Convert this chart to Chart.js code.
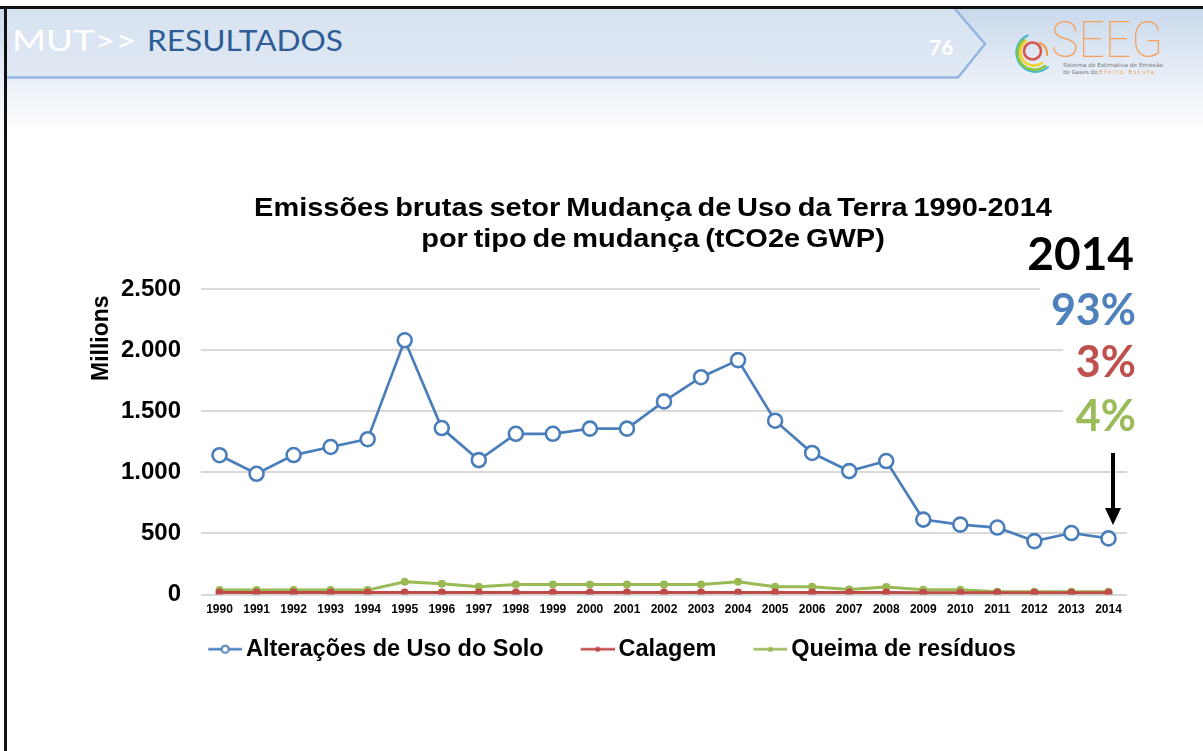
<!DOCTYPE html>
<html>
<head>
<meta charset="utf-8">
<script src="https://cdn.jsdelivr.net/npm/chart.js@4.4.1/dist/chart.umd.min.js"></script>
<style>
  html, body { margin:0; padding:0; width:1203px; height:751px; overflow:hidden; background:#fff; }
  #stage { position:absolute; left:0; top:0; width:1203px; height:751px; }
  #hdr { position:absolute; left:0; top:0; }
  #chartwrap { position:absolute; left:0; top:0; width:1203px; height:751px; }
  .abs { position:absolute; white-space:nowrap; }
  .ttl { font-family:'Liberation Sans', Arial, sans-serif; font-weight:bold; font-size:26px; line-height:30px;
         color:#000; left:153px; width:1000px; text-align:center; transform:scaleX(1.114); transform-origin:50% 0; word-spacing:-2px; }
  .pct { font-family:Lato, 'Open Sans', sans-serif; font-weight:bold; text-align:right; background:#fff; }
</style>
</head>
<body>
<div id="stage">
  <svg id="hdr" width="1203" height="751" xmlns="http://www.w3.org/2000/svg">
    <defs>
      <linearGradient id="gBack" x1="0" y1="0" x2="0" y2="1">
        <stop offset="0" stop-color="#c9d9ec"/>
        <stop offset="0.45" stop-color="#e3ebf5"/>
        <stop offset="1" stop-color="#ffffff"/>
      </linearGradient>
      <linearGradient id="gBand" x1="0" y1="0" x2="0" y2="1">
        <stop offset="0" stop-color="#d8e3f0"/>
        <stop offset="1" stop-color="#dfe8f3"/>
      </linearGradient>
    </defs>
    <rect x="0" y="9" width="1203" height="124" fill="url(#gBack)"/>
    <polygon points="7,9 955,9 985,44 958,77 7,77" fill="url(#gBand)"/>
    <polyline points="7,77.5 958,77.5 985,44 955,9" fill="none" stroke="#93b6e1" stroke-width="2.5"/>
    <rect x="0" y="6" width="1203" height="3" fill="#111"/>
    <rect x="4" y="6" width="3" height="745" fill="#111"/>
    <!-- logo rings -->
    <g fill="none" stroke-linecap="round">
      <path d="M 1027.5 35.5 A 19 19 0 1 0 1048 67" stroke="#4bb8c9" stroke-width="2.2"/>
      <path d="M 1024 40 A 16.5 16.5 0 1 0 1045 66" stroke="#8cc63f" stroke-width="2.6"/>
      <path d="M 1026 41 A 13 13 0 1 0 1042 63" stroke="#f2d230" stroke-width="2.6"/>
      <circle cx="1032.5" cy="51" r="8.5" stroke="#d9534f" stroke-width="2.6"/>
      <path d="M 1040 43 A 11 11 0 0 1 1047 55" stroke="#f29b4b" stroke-width="2.2"/>
    </g>
    <text x="1051" y="57" textLength="112" lengthAdjust="spacingAndGlyphs" font-family="Roboto, 'Open Sans', sans-serif" font-weight="100" font-size="50" fill="#f5a05a">SEEG</text>
    <text x="1063" y="67" textLength="100" lengthAdjust="spacingAndGlyphs" font-family="'DejaVu Sans', sans-serif" font-size="5.6" fill="#777">Sistema de Estimativa de Emissão</text>
    <text x="1063" y="74" font-family="'DejaVu Sans', sans-serif" font-size="5.6" fill="#777">de Gases do <tspan fill="#f29b4b" letter-spacing="1.6">Efeito Estufa</tspan></text>
    <!-- heading -->
    <text x="12" y="51" textLength="125" lengthAdjust="spacingAndGlyphs" font-family="Lato, 'Open Sans', sans-serif" font-size="28" fill="#ffffff">MUT&gt;&gt;</text>
    <text x="147" y="51" textLength="196" lengthAdjust="spacingAndGlyphs" font-family="Lato, 'Open Sans', sans-serif" font-size="28" fill="#2d5c96">RESULTADOS</text>
    <text x="929" y="55" font-family="Lato, 'Open Sans', sans-serif" font-weight="bold" font-size="21" fill="#ffffff">76</text>
  </svg>
  <div id="chartwrap"><canvas id="c" width="1203" height="751"></canvas></div>
  <div class="abs ttl" style="top:192px;">Emissões brutas setor Mudança de Uso da Terra 1990-2014</div>
  <div class="abs ttl" style="top:223px;">por tipo de mudança (tCO2e GWP)</div>
  <div class="abs pct" style="left:1026px; width:108px; top:230px; font-size:46px; line-height:46px; color:#000;">2014</div>
  <div class="abs pct" style="left:1040px; width:96px; top:287px; font-size:43px; line-height:43px; color:#4f81bd;">93%</div>
  <div class="abs pct" style="left:1063px; width:73px; top:339px; font-size:43px; line-height:43px; color:#c0504d;">3%</div>
  <div class="abs pct" style="left:1063px; width:73px; top:393px; font-size:43px; line-height:43px; color:#9bbb59;">4%</div>
  <svg class="abs" style="left:0; top:0;" width="1203" height="751">
    <line x1="1113" y1="453" x2="1113" y2="512" stroke="#000" stroke-width="4"/>
    <polygon points="1105,508 1121,508 1113,525" fill="#000"/>
  </svg>
</div>
<script>
// ---- data ----
const years = ['1990','1991','1992','1993','1994','1995','1996','1997','1998','1999','2000','2001','2002','2003','2004','2005','2006','2007','2008','2009','2010','2011','2012','2013','2014'];
const alteracoesUsoSolo = [1140, 988, 1141, 1207, 1271, 2080, 1362, 1100, 1315, 1315, 1357, 1357, 1580, 1778, 1918, 1422, 1158, 1010, 1092, 613, 572, 548, 437, 503, 459];
const calagem = [16, 16, 16, 16, 16, 17, 17, 17, 17, 17, 17, 17, 17, 17, 17, 17, 17, 16, 17, 15, 15, 14, 14, 14, 14];
const queimaResiduos = [36, 36, 36, 36, 36, 105, 88, 63, 82, 82, 82, 82, 82, 82, 105, 63, 63, 41, 61, 39, 39, 22, 22, 22, 22];
const seriesNames = ['Alterações de Uso do Solo', 'Calagem', 'Queima de resíduos'];
const yAxisTitle = 'Millions';

const BLUE = '#4a7ebb', RED = '#be4b48', GREEN = '#98b954';
const FONT = "'Liberation Sans', Arial, sans-serif";

function fmt(v){ return String(v).replace(/\B(?=(\d{3})+(?!\d))/g, '.'); }

// legend symbols: line with marker
const P = 54, WI = P + 16;
function legendIcon(color, hollow){
  const c = document.createElement('canvas');
  c.width = WI; c.height = 16;
  const g = c.getContext('2d');
  g.strokeStyle = color; g.lineWidth = 2.6;
  g.beginPath(); g.moveTo(WI - 34, 8); g.lineTo(WI, 8); g.stroke();
  const mx = WI - 17;
  g.beginPath();
  if (hollow){ g.arc(mx, 8, 3.6, 0, Math.PI*2); g.fillStyle = '#fff'; g.fill(); g.lineWidth = 2; g.stroke(); }
  else { g.arc(mx, 8, 2.6, 0, Math.PI*2); g.fillStyle = color; g.fill(); }
  return c;
}
const icons = [legendIcon(BLUE, true), legendIcon(RED, false), legendIcon(GREEN, false)];

new Chart(document.getElementById('c'), {
  type: 'line',
  data: {
    labels: years,
    datasets: [
      { label: seriesNames[0], data: alteracoesUsoSolo, borderColor: BLUE, borderWidth: 2.7,
        pointRadius: 7, pointBorderWidth: 2.6, pointBackgroundColor: '#fff', pointBorderColor: BLUE, tension: 0 },
      { label: seriesNames[1], data: calagem, borderColor: RED, borderWidth: 3,
        pointRadius: 4, pointBorderWidth: 0, pointBackgroundColor: RED, tension: 0 },
      { label: seriesNames[2], data: queimaResiduos, borderColor: GREEN, borderWidth: 3,
        pointRadius: 4, pointBorderWidth: 0, pointBackgroundColor: GREEN, tension: 0 }
    ]
  },
  options: {
    responsive: false, animation: false, devicePixelRatio: 1,
    layout: { padding: { left: 69, right: 76, top: 289, bottom: 80 } },
    plugins: {
      title: { display: false },
      tooltip: { enabled: false },
      legend: {
        position: 'bottom',
        labels: {
          usePointStyle: true, pointStyleWidth: P, padding: 9, color: '#000',
          font: { family: FONT, size: 23.5, weight: 'bold' },
          generateLabels(chart){
            const items = Chart.defaults.plugins.legend.labels.generateLabels(chart);
            items.forEach((it, i) => { it.pointStyle = icons[i]; it.fontColor = '#000'; });
            return items;
          }
        }
      }
    },
    scales: {
      x: {
        offset: true,
        grid: { display: false },
        border: { display: false },
        ticks: { color: '#000', font: { family: FONT, size: 12, weight: 'bold' }, padding: 0, maxRotation: 0, autoSkip: false },
        afterFit(scale){ scale.height = 34; }
      },
      y: {
        min: 0, max: 2500,
        grid: { color: '#d9d9d9', lineWidth: 2, drawTicks: false },
        border: { display: false },
        ticks: { stepSize: 500, color: '#000', padding: 20, font: { family: FONT, size: 24, weight: 'bold' }, callback: v => fmt(v) },
        title: { display: true, text: yAxisTitle + ' ', align: 'end', color: '#000', padding: { top: 19, bottom: 0 },
                 font: { family: FONT, size: 23, weight: 'bold' } },
        afterFit(scale){ scale.width = 132; }
      }
    }
  }
});
</script>
</body>
</html>
